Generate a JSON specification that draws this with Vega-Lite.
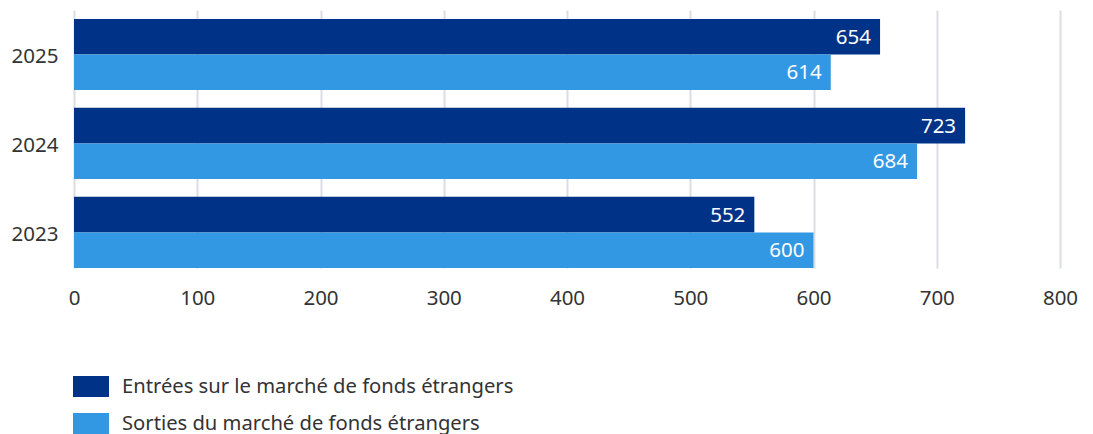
{
  "$schema": "https://vega.github.io/schema/vega-lite/v6.json",
  "width": 986,
  "height": 258,
  "autosize": {"type": "none"},
  "padding": {"left": 74, "top": 10, "right": 33, "bottom": 166},
  "background": "white",
  "config": {
    "view": {"stroke": null},
    "font": "Noto Sans",
    "text": {"font": "Noto Sans"}
  },
  "data": {
    "values": [
      {"year": "2025", "series": "Entrées sur le marché de fonds étrangers", "value": 654},
      {"year": "2025", "series": "Sorties du marché de fonds étrangers", "value": 614},
      {"year": "2024", "series": "Entrées sur le marché de fonds étrangers", "value": 723},
      {"year": "2024", "series": "Sorties du marché de fonds étrangers", "value": 684},
      {"year": "2023", "series": "Entrées sur le marché de fonds étrangers", "value": 552},
      {"year": "2023", "series": "Sorties du marché de fonds étrangers", "value": 600}
    ]
  },
  "encoding": {
    "y": {
      "field": "year",
      "type": "nominal",
      "sort": "descending",
      "title": null,
      "scale": {"paddingInner": 0.2, "paddingOuter": 0.05, "align": 1},
      "axis": {
        "domain": false,
        "ticks": false,
        "grid": false,
        "labelPadding": 16,
        "labelOffset": 3,
        "labelFontSize": 20.5,
        "labelColor": "#333333",
        "labelFont": "Noto Sans"
      }
    },
    "yOffset": {
      "field": "series",
      "type": "nominal",
      "sort": ["Entrées sur le marché de fonds étrangers", "Sorties du marché de fonds étrangers"],
      "scale": {"paddingInner": 0, "paddingOuter": 0}
    },
    "x": {
      "field": "value",
      "type": "quantitative",
      "title": null,
      "scale": {"domain": [0, 800], "nice": false},
      "axis": {
        "values": [0, 100, 200, 300, 400, 500, 600, 700, 800],
        "domain": false,
        "ticks": false,
        "grid": true,
        "gridColor": "#d9dde5",
        "gridWidth": 2,
        "labelFlush": false,
        "labelPadding": 20,
        "labelFontSize": 20.5,
        "labelColor": "#333333",
        "labelFont": "Noto Sans"
      }
    }
  },
  "layer": [
    {
      "mark": {"type": "bar"},
      "encoding": {
        "color": {
          "field": "series",
          "type": "nominal",
          "sort": ["Entrées sur le marché de fonds étrangers", "Sorties du marché de fonds étrangers"],
          "scale": {"range": ["#003388", "#3298e3"]},
          "legend": {
            "title": null,
            "orient": "none",
            "direction": "vertical",
            "legendX": -1,
            "legendY": 358.5,
            "padding": 0,
            "rowPadding": 8,
            "symbolType": "M-1,-0.583H1V0.583H-1Z",
            "symbolSize": 1296,
            "symbolStrokeWidth": 0,
            "symbolOpacity": 1,
            "labelOffset": 13,
            "labelFontSize": 20.2,
            "labelColor": "#333333",
            "labelFont": "Noto Sans",
            "labelLimit": 0
          }
        }
      }
    },
    {
      "mark": {
        "type": "text",
        "align": "right",
        "baseline": "middle",
        "dx": -9,
        "dy": 1,
        "color": "white",
        "fontSize": 20.5,
        "font": "Noto Sans"
      },
      "encoding": {
        "text": {"field": "value", "type": "quantitative"}
      }
    }
  ]
}
